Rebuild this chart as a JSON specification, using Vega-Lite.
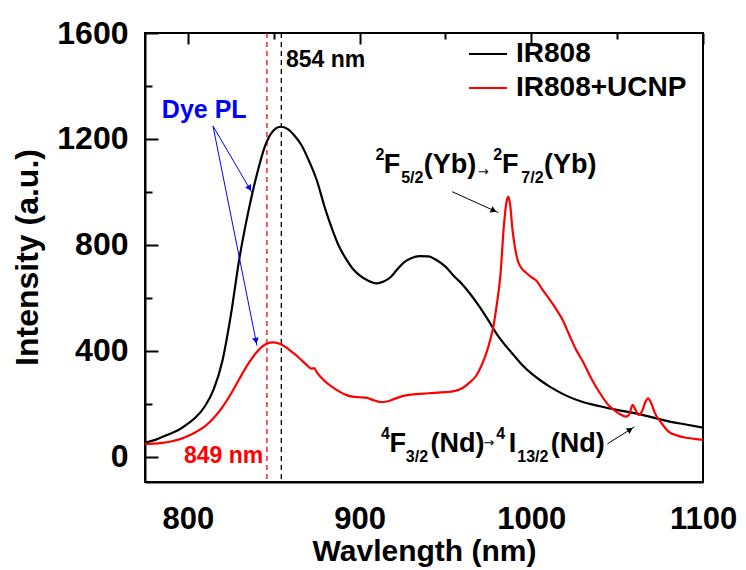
{
  "$schema": "https://vega.github.io/schema/vega-lite/v6.json",
  "width": 558,
  "height": 449,
  "autosize": {"type": "none"},
  "padding": {"left": 145, "top": 33, "right": 43, "bottom": 88},
  "background": "white",
  "config": {
    "view": {"stroke": "black", "strokeWidth": 2},
    "font": "Liberation Sans"
  },
  "datasets": {
    "spectra": [
      {"series": "IR808", "wl": 775, "I": 53},
      {"series": "IR808", "wl": 780, "I": 62},
      {"series": "IR808", "wl": 785, "I": 75},
      {"series": "IR808", "wl": 790, "I": 88},
      {"series": "IR808", "wl": 795, "I": 103},
      {"series": "IR808", "wl": 800, "I": 125},
      {"series": "IR808", "wl": 805, "I": 152},
      {"series": "IR808", "wl": 810, "I": 192},
      {"series": "IR808", "wl": 815, "I": 255},
      {"series": "IR808", "wl": 820, "I": 360},
      {"series": "IR808", "wl": 825, "I": 535},
      {"series": "IR808", "wl": 830, "I": 750},
      {"series": "IR808", "wl": 835, "I": 920},
      {"series": "IR808", "wl": 840, "I": 1062},
      {"series": "IR808", "wl": 845, "I": 1175},
      {"series": "IR808", "wl": 850, "I": 1233},
      {"series": "IR808", "wl": 854, "I": 1246},
      {"series": "IR808", "wl": 858, "I": 1238},
      {"series": "IR808", "wl": 862, "I": 1213},
      {"series": "IR808", "wl": 866, "I": 1178},
      {"series": "IR808", "wl": 870, "I": 1125},
      {"series": "IR808", "wl": 875, "I": 1045},
      {"series": "IR808", "wl": 880, "I": 935},
      {"series": "IR808", "wl": 884, "I": 860},
      {"series": "IR808", "wl": 888, "I": 795},
      {"series": "IR808", "wl": 892, "I": 748},
      {"series": "IR808", "wl": 896, "I": 710},
      {"series": "IR808", "wl": 900, "I": 685},
      {"series": "IR808", "wl": 905, "I": 665},
      {"series": "IR808", "wl": 910, "I": 655},
      {"series": "IR808", "wl": 914, "I": 662},
      {"series": "IR808", "wl": 918, "I": 678},
      {"series": "IR808", "wl": 922, "I": 708},
      {"series": "IR808", "wl": 926, "I": 735},
      {"series": "IR808", "wl": 930, "I": 750},
      {"series": "IR808", "wl": 935, "I": 758},
      {"series": "IR808", "wl": 940, "I": 757},
      {"series": "IR808", "wl": 945, "I": 742},
      {"series": "IR808", "wl": 950, "I": 718},
      {"series": "IR808", "wl": 955, "I": 682},
      {"series": "IR808", "wl": 960, "I": 650},
      {"series": "IR808", "wl": 965, "I": 610},
      {"series": "IR808", "wl": 970, "I": 565},
      {"series": "IR808", "wl": 975, "I": 515},
      {"series": "IR808", "wl": 980, "I": 462},
      {"series": "IR808", "wl": 985, "I": 420},
      {"series": "IR808", "wl": 990, "I": 382},
      {"series": "IR808", "wl": 995, "I": 345},
      {"series": "IR808", "wl": 1000, "I": 315},
      {"series": "IR808", "wl": 1005, "I": 290},
      {"series": "IR808", "wl": 1010, "I": 268},
      {"series": "IR808", "wl": 1015, "I": 249},
      {"series": "IR808", "wl": 1020, "I": 232},
      {"series": "IR808", "wl": 1030, "I": 207},
      {"series": "IR808", "wl": 1040, "I": 191},
      {"series": "IR808", "wl": 1050, "I": 177},
      {"series": "IR808", "wl": 1060, "I": 165},
      {"series": "IR808", "wl": 1070, "I": 150},
      {"series": "IR808", "wl": 1080, "I": 134},
      {"series": "IR808", "wl": 1090, "I": 122},
      {"series": "IR808", "wl": 1100, "I": 110},
      {"series": "IR808+UCNP", "wl": 775, "I": 49},
      {"series": "IR808+UCNP", "wl": 780, "I": 50},
      {"series": "IR808+UCNP", "wl": 785, "I": 53},
      {"series": "IR808+UCNP", "wl": 790, "I": 58},
      {"series": "IR808+UCNP", "wl": 795, "I": 66},
      {"series": "IR808+UCNP", "wl": 800, "I": 79},
      {"series": "IR808+UCNP", "wl": 805, "I": 95},
      {"series": "IR808+UCNP", "wl": 810, "I": 116},
      {"series": "IR808+UCNP", "wl": 815, "I": 147},
      {"series": "IR808+UCNP", "wl": 820, "I": 187},
      {"series": "IR808+UCNP", "wl": 825, "I": 237},
      {"series": "IR808+UCNP", "wl": 830, "I": 295},
      {"series": "IR808+UCNP", "wl": 835, "I": 350},
      {"series": "IR808+UCNP", "wl": 840, "I": 395},
      {"series": "IR808+UCNP", "wl": 845, "I": 424},
      {"series": "IR808+UCNP", "wl": 849, "I": 432},
      {"series": "IR808+UCNP", "wl": 853, "I": 428},
      {"series": "IR808+UCNP", "wl": 857, "I": 414},
      {"series": "IR808+UCNP", "wl": 861, "I": 394},
      {"series": "IR808+UCNP", "wl": 865, "I": 372},
      {"series": "IR808+UCNP", "wl": 869, "I": 348},
      {"series": "IR808+UCNP", "wl": 872, "I": 333},
      {"series": "IR808+UCNP", "wl": 873.5, "I": 335},
      {"series": "IR808+UCNP", "wl": 875, "I": 320},
      {"series": "IR808+UCNP", "wl": 879, "I": 290},
      {"series": "IR808+UCNP", "wl": 884, "I": 264},
      {"series": "IR808+UCNP", "wl": 888, "I": 247},
      {"series": "IR808+UCNP", "wl": 892, "I": 234},
      {"series": "IR808+UCNP", "wl": 896, "I": 227},
      {"series": "IR808+UCNP", "wl": 900, "I": 225},
      {"series": "IR808+UCNP", "wl": 904, "I": 223},
      {"series": "IR808+UCNP", "wl": 908, "I": 214},
      {"series": "IR808+UCNP", "wl": 912, "I": 207},
      {"series": "IR808+UCNP", "wl": 916, "I": 209},
      {"series": "IR808+UCNP", "wl": 920, "I": 218},
      {"series": "IR808+UCNP", "wl": 925, "I": 229},
      {"series": "IR808+UCNP", "wl": 930, "I": 235},
      {"series": "IR808+UCNP", "wl": 940, "I": 240},
      {"series": "IR808+UCNP", "wl": 950, "I": 244},
      {"series": "IR808+UCNP", "wl": 955, "I": 248},
      {"series": "IR808+UCNP", "wl": 960, "I": 260},
      {"series": "IR808+UCNP", "wl": 964, "I": 280},
      {"series": "IR808+UCNP", "wl": 968, "I": 307},
      {"series": "IR808+UCNP", "wl": 971, "I": 345},
      {"series": "IR808+UCNP", "wl": 974, "I": 395},
      {"series": "IR808+UCNP", "wl": 976, "I": 440},
      {"series": "IR808+UCNP", "wl": 978, "I": 495},
      {"series": "IR808+UCNP", "wl": 980, "I": 580},
      {"series": "IR808+UCNP", "wl": 982, "I": 685},
      {"series": "IR808+UCNP", "wl": 984, "I": 870},
      {"series": "IR808+UCNP", "wl": 985.5, "I": 960},
      {"series": "IR808+UCNP", "wl": 986.6, "I": 982},
      {"series": "IR808+UCNP", "wl": 987.7, "I": 950},
      {"series": "IR808+UCNP", "wl": 989, "I": 860},
      {"series": "IR808+UCNP", "wl": 990.5, "I": 790},
      {"series": "IR808+UCNP", "wl": 992, "I": 743},
      {"series": "IR808+UCNP", "wl": 994, "I": 715},
      {"series": "IR808+UCNP", "wl": 997, "I": 695},
      {"series": "IR808+UCNP", "wl": 1000, "I": 678},
      {"series": "IR808+UCNP", "wl": 1003, "I": 665},
      {"series": "IR808+UCNP", "wl": 1006.6, "I": 630},
      {"series": "IR808+UCNP", "wl": 1010, "I": 600},
      {"series": "IR808+UCNP", "wl": 1014, "I": 562},
      {"series": "IR808+UCNP", "wl": 1018, "I": 520},
      {"series": "IR808+UCNP", "wl": 1022, "I": 462},
      {"series": "IR808+UCNP", "wl": 1026, "I": 405},
      {"series": "IR808+UCNP", "wl": 1030, "I": 360},
      {"series": "IR808+UCNP", "wl": 1035, "I": 295},
      {"series": "IR808+UCNP", "wl": 1040, "I": 240},
      {"series": "IR808+UCNP", "wl": 1045, "I": 195},
      {"series": "IR808+UCNP", "wl": 1049.4, "I": 171},
      {"series": "IR808+UCNP", "wl": 1052, "I": 160},
      {"series": "IR808+UCNP", "wl": 1055, "I": 152},
      {"series": "IR808+UCNP", "wl": 1057, "I": 160},
      {"series": "IR808+UCNP", "wl": 1059, "I": 196},
      {"series": "IR808+UCNP", "wl": 1060.5, "I": 180},
      {"series": "IR808+UCNP", "wl": 1062.5, "I": 158},
      {"series": "IR808+UCNP", "wl": 1064.5, "I": 172},
      {"series": "IR808+UCNP", "wl": 1066.5, "I": 208},
      {"series": "IR808+UCNP", "wl": 1068, "I": 221},
      {"series": "IR808+UCNP", "wl": 1070, "I": 200},
      {"series": "IR808+UCNP", "wl": 1072, "I": 165},
      {"series": "IR808+UCNP", "wl": 1075, "I": 135},
      {"series": "IR808+UCNP", "wl": 1080, "I": 95},
      {"series": "IR808+UCNP", "wl": 1085, "I": 80},
      {"series": "IR808+UCNP", "wl": 1090, "I": 72},
      {"series": "IR808+UCNP", "wl": 1095, "I": 68},
      {"series": "IR808+UCNP", "wl": 1100, "I": 64}
    ],
    "transitions": [
      {"wl": 909.2, "I": 1121, "text": "2", "part": "small"},
      {"wl": 914.0, "I": 1070, "text": "F", "part": "main"},
      {"wl": 924.2, "I": 1032, "text": "5/2", "part": "small"},
      {"wl": 937.4, "I": 1070, "text": "(Yb)", "part": "main"},
      {"wl": 968.8, "I": 1077, "text": "→", "part": "arrow"},
      {"wl": 977.8, "I": 1121, "text": "2", "part": "small"},
      {"wl": 982.9, "I": 1070, "text": "F", "part": "main"},
      {"wl": 994.2, "I": 1032, "text": "7/2", "part": "small"},
      {"wl": 1007.4, "I": 1070, "text": "(Yb)", "part": "main"},
      {"wl": 912.4, "I": 69, "text": "4", "part": "small"},
      {"wl": 917.4, "I": 20, "text": "F", "part": "main"},
      {"wl": 926.9, "I": -18, "text": "3/2", "part": "small"},
      {"wl": 941.3, "I": 20, "text": "(Nd)", "part": "main"},
      {"wl": 972.0, "I": 52, "text": "→", "part": "arrow"},
      {"wl": 979.6, "I": 69, "text": "4", "part": "small"},
      {"wl": 986.8, "I": 20, "text": "I", "part": "main"},
      {"wl": 991.8, "I": -18, "text": "13/2", "part": "small"},
      {"wl": 1011.3, "I": 20, "text": "(Nd)", "part": "main"}
    ]
  },
  "layer": [
    {
      "data": {"values": [{"wl": 846}]},
      "mark": {"type": "rule", "color": "red", "strokeDash": [5, 4], "strokeWidth": 1.3},
      "encoding": {"x": {"field": "wl", "type": "quantitative"}}
    },
    {
      "data": {"values": [{"wl": 854.4}]},
      "mark": {"type": "rule", "color": "black", "strokeDash": [5, 4], "strokeWidth": 1.3},
      "encoding": {"x": {"field": "wl", "type": "quantitative"}}
    },
    {
      "data": {"name": "spectra"},
      "mark": {"type": "line", "strokeWidth": 2.2, "interpolate": "monotone"},
      "encoding": {
        "x": {
          "field": "wl", "type": "quantitative",
          "scale": {"domain": [775, 1100], "nice": false, "zero": false},
          "axis": {
            "orient": "bottom",
            "values": [800, 850, 900, 950, 1000, 1050, 1100],
            "format": "d",
            "labelExpr": "datum.value % 100 === 0 ? datum.label : ''",
            "ticks": false,
            "grid": true,
            "gridColor": "black", "gridWidth": 2, "gridOpacity": 1,
            "gridDash": {"condition": {"test": "datum.value % 100 === 0", "value": [11, 3000]}, "value": [6, 3000]},
            "domainColor": "black", "domainWidth": 2,
            "labelFont": "Liberation Sans", "labelFontWeight": "bold", "labelFontSize": 31, "labelColor": "black",
            "labelPadding": 22, "labelFlush": false,
            "title": "Wavlength (nm)",
            "titleFont": "Liberation Sans", "titleFontWeight": "bold", "titleFontSize": 30, "titleColor": "black",
            "titleBaseline": "alphabetic", "titleY": 78
          }
        },
        "y": {
          "field": "I", "type": "quantitative",
          "scale": {"domain": [-95, 1600], "nice": false, "zero": false},
          "axis": {
            "orient": "left",
            "values": [0, 200, 400, 600, 800, 1000, 1200, 1400, 1600],
            "format": "d",
            "labelExpr": "datum.value % 400 === 0 ? datum.label : ''",
            "ticks": false,
            "grid": true,
            "gridColor": "black", "gridWidth": 2, "gridOpacity": 1,
            "gridDash": {"condition": {"test": "datum.value % 400 === 0", "value": [13, 3000]}, "value": [7, 3000]},
            "domainColor": "black", "domainWidth": 2,
            "labelFont": "Liberation Sans", "labelFontWeight": "bold", "labelFontSize": 32, "labelColor": "black",
            "labelPadding": 17, "labelFlush": false,
            "title": "Intensity (a.u.)",
            "titleFont": "Liberation Sans", "titleFontWeight": "bold", "titleFontSize": 32, "titleColor": "black",
            "titleBaseline": "alphabetic", "titleAngle": -90, "titleX": -108, "titleY": 224, "titleAlign": "center"
          }
        },
        "color": {
          "field": "series", "type": "nominal",
          "scale": {"domain": ["IR808", "IR808+UCNP"], "range": ["black", "red"]},
          "legend": {
            "title": null, "orient": "none", "legendX": 323, "legendY": 1,
            "symbolType": "stroke", "symbolSize": 1444, "symbolStrokeWidth": 2,
            "labelFont": "Liberation Sans", "labelFontWeight": "bold", "labelFontSize": 28, "labelColor": "black",
            "labelOffset": 8, "labelLimit": 400, "rowPadding": 0, "padding": 0
          }
        }
      }
    },
    {
      "data": {"values": [{"x": 814.6, "y": 1249, "x2": 837.3, "y2": 997.7}, {"x": 814.6, "y": 1249, "x2": 840.2, "y2": 419.5}]},
      "mark": {"type": "rule", "color": "#0000ff", "strokeWidth": 1},
      "encoding": {
        "x": {"field": "x", "type": "quantitative"},
        "y": {"field": "y", "type": "quantitative"},
        "x2": {"field": "x2"},
        "y2": {"field": "y2"}
      }
    },
    {
      "data": {"values": [{"x": 953.9, "y": 1001, "x2": 980.8, "y2": 922}, {"x": 1044.3, "y": 49, "x2": 1060, "y2": 113}]},
      "mark": {"type": "rule", "color": "black", "strokeWidth": 1},
      "encoding": {
        "x": {"field": "x", "type": "quantitative"},
        "y": {"field": "y", "type": "quantitative"},
        "x2": {"field": "x2"},
        "y2": {"field": "y2"}
      }
    },
    {
      "data": {"values": [{"wl": 835.9, "I": 1014}]},
      "mark": {"type": "point", "shape": "triangle-right", "angle": 60, "size": 45, "filled": true, "color": "#0000ff", "opacity": 1},
      "encoding": {"x": {"field": "wl", "type": "quantitative"}, "y": {"field": "I", "type": "quantitative"}}
    },
    {
      "data": {"values": [{"wl": 839.6, "I": 438}]},
      "mark": {"type": "point", "shape": "triangle-right", "angle": 79, "size": 45, "filled": true, "color": "#0000ff", "opacity": 1},
      "encoding": {"x": {"field": "wl", "type": "quantitative"}, "y": {"field": "I", "type": "quantitative"}}
    },
    {
      "data": {"values": [{"wl": 978.1, "I": 929.6}]},
      "mark": {"type": "point", "shape": "triangle-right", "angle": 24.5, "size": 45, "filled": true, "color": "black", "opacity": 1},
      "encoding": {"x": {"field": "wl", "type": "quantitative"}, "y": {"field": "I", "type": "quantitative"}}
    },
    {
      "data": {"values": [{"wl": 1057.6, "I": 103}]},
      "mark": {"type": "point", "shape": "triangle-right", "angle": -32, "size": 45, "filled": true, "color": "black", "opacity": 1},
      "encoding": {"x": {"field": "wl", "type": "quantitative"}, "y": {"field": "I", "type": "quantitative"}}
    },
    {
      "data": {"values": [{"wl": 857.1, "I": 1472, "label": "854 nm"}]},
      "mark": {"type": "text", "align": "left", "baseline": "alphabetic", "font": "Liberation Sans", "fontWeight": "bold", "fontSize": 23, "color": "black"},
      "encoding": {"x": {"field": "wl", "type": "quantitative"}, "y": {"field": "I", "type": "quantitative"}, "text": {"field": "label"}}
    },
    {
      "data": {"values": [{"wl": 797.7, "I": -22.6, "label": "849 nm"}]},
      "mark": {"type": "text", "align": "left", "baseline": "alphabetic", "font": "Liberation Sans", "fontWeight": "bold", "fontSize": 23, "color": "red"},
      "encoding": {"x": {"field": "wl", "type": "quantitative"}, "y": {"field": "I", "type": "quantitative"}, "text": {"field": "label"}}
    },
    {
      "data": {"values": [{"wl": 784.8, "I": 1279, "label": "Dye PL"}]},
      "mark": {"type": "text", "align": "left", "baseline": "alphabetic", "font": "Liberation Sans", "fontWeight": "bold", "fontSize": 25, "color": "#0000ff"},
      "encoding": {"x": {"field": "wl", "type": "quantitative"}, "y": {"field": "I", "type": "quantitative"}, "text": {"field": "label"}}
    },
    {
      "data": {"name": "transitions"},
      "transform": [{"filter": "datum.part === 'main'"}],
      "mark": {"type": "text", "align": "left", "baseline": "alphabetic", "font": "Liberation Sans", "fontWeight": "bold", "fontSize": 27, "color": "black"},
      "encoding": {"x": {"field": "wl", "type": "quantitative"}, "y": {"field": "I", "type": "quantitative"}, "text": {"field": "text"}}
    },
    {
      "data": {"name": "transitions"},
      "transform": [{"filter": "datum.part === 'small'"}],
      "mark": {"type": "text", "align": "left", "baseline": "alphabetic", "font": "Liberation Sans", "fontWeight": "bold", "fontSize": 16, "color": "black"},
      "encoding": {"x": {"field": "wl", "type": "quantitative"}, "y": {"field": "I", "type": "quantitative"}, "text": {"field": "text"}}
    },
    {
      "data": {"name": "transitions"},
      "transform": [{"filter": "datum.part === 'arrow'"}],
      "mark": {"type": "text", "align": "left", "baseline": "middle", "font": "DejaVu Sans", "fontSize": 13, "color": "black"},
      "encoding": {"x": {"field": "wl", "type": "quantitative"}, "y": {"field": "I", "type": "quantitative"}, "text": {"field": "text"}}
    }
  ]
}
